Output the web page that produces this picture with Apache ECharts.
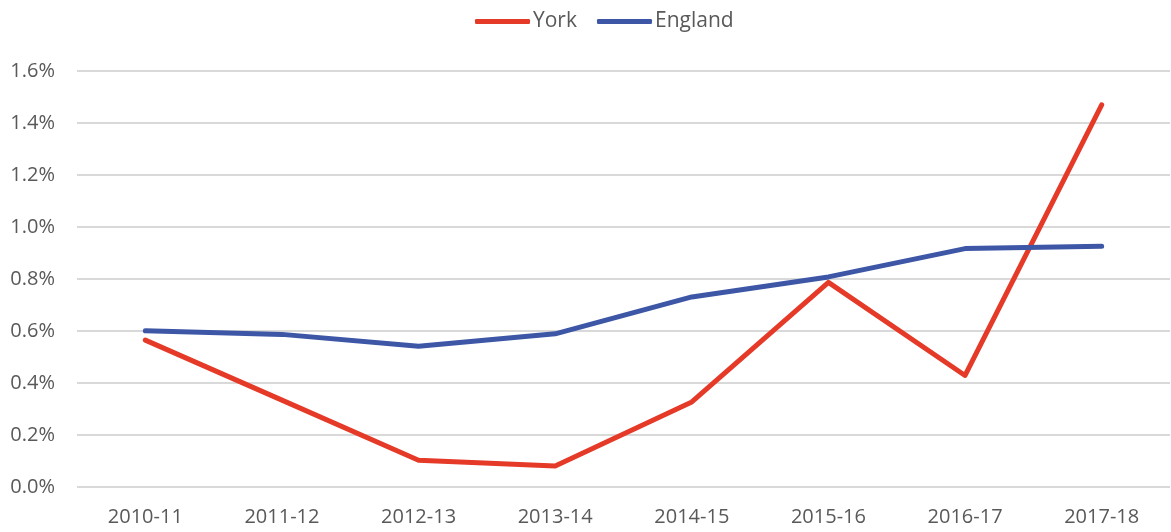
<!DOCTYPE html>
<html>
<head>
<meta charset="utf-8">
<script src="https://cdn.jsdelivr.net/npm/echarts@6/dist/echarts.min.js"></script>
<style>
  html, body { margin: 0; padding: 0; background: #fff; }
  #chart { width: 1171px; height: 532px; }
</style>
</head>
<body>
<div id="chart"></div>
<script>
// categories (financial years)
var years = ['2010-11', '2011-12', '2012-13', '2013-14', '2014-15', '2015-16', '2016-17', '2017-18'];
// values in percent
var york = [0.565, 0.334, 0.103, 0.081, 0.327, 0.787, 0.429, 1.47];
var england = [0.601, 0.587, 0.541, 0.589, 0.731, 0.808, 0.917, 0.926];

var textColor = '#595959';
var fontFam = '"Open Sans", "Noto Sans", sans-serif';

var chart = echarts.init(document.getElementById('chart'));
chart.setOption({
  animation: false,
  textStyle: { fontFamily: fontFam },
  legend: {
    top: 6,
    left: 470,
    icon: 'roundRect',
    itemWidth: 55,
    itemHeight: 5,
    itemGap: 20,
    textStyle: { color: textColor, fontSize: 21, fontFamily: fontFam, padding: [0, 0, 0, -2] },
    data: ['York', 'England']
  },
  grid: { left: 77, right: 1, top: 71, bottom: 45 },
  xAxis: {
    type: 'category',
    data: years,
    boundaryGap: true,
    axisLine: { show: false },
    axisTick: { show: false },
    axisLabel: { color: textColor, fontSize: 20, margin: 20 }
  },
  yAxis: {
    type: 'value',
    min: 0,
    max: 1.6,
    interval: 0.2,
    axisLine: { show: false },
    axisTick: { show: false },
    axisLabel: {
      color: textColor, fontSize: 20, margin: 22,
      formatter: function (v) { return v.toFixed(1) + '%'; }
    },
    splitLine: { lineStyle: { color: '#d9d9d9', width: 2 } }
  },
  series: [
    {
      name: 'York', type: 'line', data: york,
      symbol: 'none',
      itemStyle: { color: '#e63a29' },
      lineStyle: { color: '#e63a29', width: 5, cap: 'round', join: 'round' }
    },
    {
      name: 'England', type: 'line', data: england,
      symbol: 'none',
      itemStyle: { color: '#3d57a6' },
      lineStyle: { color: '#3d57a6', width: 5, cap: 'round', join: 'round' }
    }
  ]
});
</script>
</body>
</html>
